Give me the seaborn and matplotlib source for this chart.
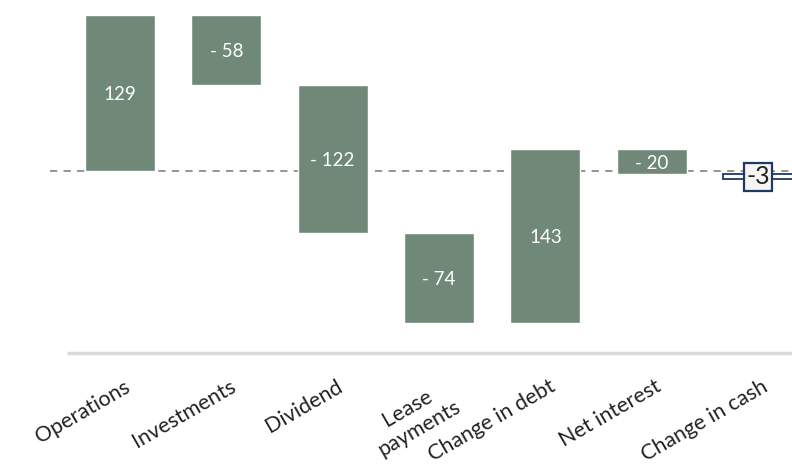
import numpy as np
import matplotlib
matplotlib.use("Agg")
import matplotlib.pyplot as plt
import seaborn as sns

# cash flow bridge
categories = ["Operations", "Investments", "Dividend", "Lease\npayments",
              "Change in debt", "Net interest", "Change in cash"]
changes = [129, -58, -122, -74, 143, -20]
cash_change = -3

sns.set_theme(style="white")
plt.rcParams["font.family"] = ["Lato", "DejaVu Sans"]

green = "#6f8878"
navy = "#1f3864"

ends = np.cumsum(changes)
starts = ends - np.array(changes)
x = np.arange(len(categories))

fig = plt.figure(figsize=(7.92, 4.65), dpi=100)
ax = fig.add_axes([0, 0.2409, 1, 0.7591])
ax.set_xlim(-1.129, 6.32)
ax.set_ylim(-150, 141.4)

# reference lines
ax.hlines(0, -0.66, 6.32, colors="#8c8c8c", linestyles=(0, (4, 3.5)), lw=1.3, zorder=1)
ax.hlines(-150, -0.5, 6.32, colors="#d9d9d9", lw=2.5, zorder=1, clip_on=False)

ax.bar(x[:6], changes, bottom=starts, width=0.66, color=green, zorder=2)
for xi, s, c in zip(x[:6], starts, changes):
    lab = str(c) if c > 0 else "- " + str(abs(c))
    ax.text(xi, s + c / 2 - 1.5, lab, color="white", ha="center", va="center",
            fontsize=13.5, zorder=3)

# final change in cash bar
last = ends[-1]
ax.bar(x[6], cash_change - 1, bottom=last - 0.5, width=0.66, color="white",
       edgecolor=navy, lw=1.3, zorder=2)
ax.text(x[6], last + cash_change / 2 - 1, str(cash_change), color="#222222",
        ha="center", va="center", fontsize=18, zorder=3,
        bbox=dict(boxstyle="square,pad=0.1", fc="#f5f5f5", ec=navy, lw=1.6))

ax.set_xticks(x + 0.03)
ax.set_xticklabels(categories, rotation=30, ha="right", rotation_mode="anchor",
                   multialignment="center", fontsize=15.5, color="#222222")
ax.tick_params(axis="x", length=0, pad=17)
ax.set_yticks([])
for sp in ax.spines.values():
    sp.set_visible(False)

fig.savefig("out.png", dpi=100)
